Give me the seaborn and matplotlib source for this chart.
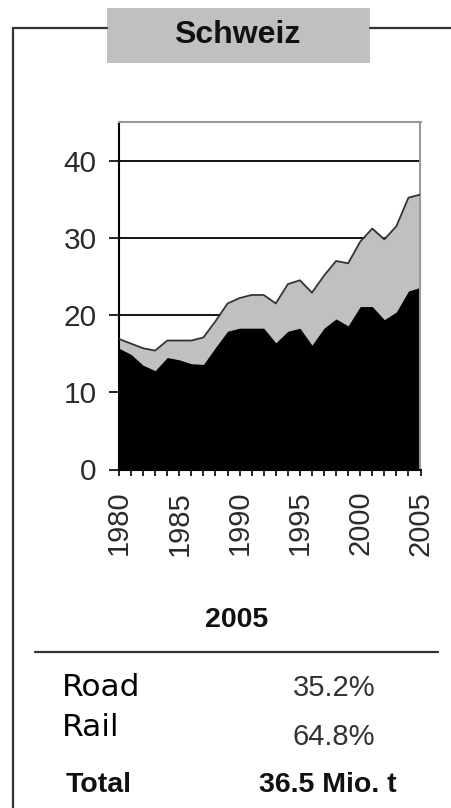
import matplotlib
matplotlib.use("Agg")
import matplotlib.pyplot as plt
from matplotlib.lines import Line2D
from matplotlib.patches import Rectangle
import numpy as np
import pandas as pd
import seaborn as sns

# Transalpine freight through Switzerland, million tonnes
years = list(range(1980, 2006))
rail = [15.7, 14.9, 13.5, 12.8, 14.5, 14.2, 13.7, 13.6, 15.8, 17.9,
        18.3, 18.3, 18.3, 16.4, 17.9, 18.3, 16.1, 18.3, 19.5, 18.6,
        21.1, 21.1, 19.4, 20.4, 23.1, 23.6]
total = [16.9, 16.3, 15.7, 15.4, 16.7, 16.7, 16.7, 17.1, 19.2, 21.5,
         22.2, 22.6, 22.6, 21.5, 24.0, 24.5, 22.9, 25.1, 27.0, 26.7,
         29.5, 31.2, 29.8, 31.5, 35.2, 35.6]
share_labels = ["Road", "Rail"]
share_values = ["35.2%", "64.8%"]
total_2005 = "36.5 Mio. t"
title = "Schweiz"
table_year = "2005"
yticks = [0, 10, 20, 30, 40]
xlabel_years = [1980, 1985, 1990, 1995, 2000, 2005]

df = pd.DataFrame({"year": years, "rail": rail, "total": total})

sns.set_theme(style="white")
plt.rcParams["font.family"] = ["Liberation Sans", "DejaVu Sans"]

W, H = 452, 808
fig = plt.figure(figsize=(W / 100, H / 100), dpi=100)
fig.patch.set_facecolor("white")

def fx(px):
    return px / W

def fy(py):
    return 1 - py / H

# Outer frame with the title tab
frame_col = "#333333"
fig.add_artist(Line2D([fx(13), fx(13)], [fy(28), 0], color=frame_col, lw=1.6))
fig.add_artist(Line2D([fx(13), fx(107)], [fy(28), fy(28)], color=frame_col, lw=1.6))
fig.add_artist(Line2D([fx(370), fx(452)], [fy(28), fy(28)], color=frame_col, lw=1.6))
fig.add_artist(Rectangle((fx(107), fy(63)), fx(370) - fx(107), fy(8) - fy(63),
                         facecolor="#c0c0c0", edgecolor="none"))
fig.text(fx(237), fy(35), title, ha="center", va="center",
         fontsize=23, fontweight="bold", color="#111111")

# Stacked area chart
ax = fig.add_axes([fx(119), fy(469.5), fx(420.5) - fx(119), fy(122) - fy(469.5)])
ax.set_facecolor("white")
for yv in yticks[1:]:
    ax.axhline(yv, color="black", lw=1.3, zorder=0)
ax.fill_between(df["year"], 0, df["total"], color="#c0c0c0", lw=0, zorder=1)
ax.fill_between(df["year"], 0, df["rail"], color="black", lw=0, zorder=2)
sns.lineplot(data=df, x="year", y="total", ax=ax, color="#333333", lw=1.3, zorder=3)

ax.set_xlim(1980, 2005)
ax.set_ylim(0, 45)
ax.set_xlabel("")
ax.set_ylabel("")
ax.set_yticks(yticks)
ax.set_yticklabels([str(v) for v in yticks])
ax.set_xticks(years)
ax.set_xticklabels([str(y) if y in xlabel_years else "" for y in years], rotation=90)
ax.tick_params(axis="y", direction="out", length=7.2, width=1.2, color="black",
               pad=9, labelsize=21.5, labelcolor="#2a2a2a", left=True)
ax.tick_params(axis="x", direction="out", length=4.3, width=1.2, color="black",
               pad=11, labelsize=21, labelcolor="#2a2a2a", bottom=True)
for side in ["left", "bottom"]:
    ax.spines[side].set_color("black")
    ax.spines[side].set_linewidth(1.5)
for side in ["top", "right"]:
    ax.spines[side].set_color("#999999")
    ax.spines[side].set_linewidth(1.5)
ax.spines["bottom"].set_zorder(5)

# Summary table for 2005
fig.text(fx(237), fy(620), table_year, ha="center", va="center",
         fontsize=20.5, fontweight="bold", color="#111111")
fig.add_artist(Line2D([fx(35), fx(438)], [fy(652), fy(652)], color="#333333", lw=1.6))
row_y = [688, 737]
label_y = [688, 727]
for lab, val, ly, vy in zip(share_labels, share_values, label_y, row_y):
    fig.text(fx(62), fy(ly), lab, ha="left", va="center", fontsize=22.5,
             family="DejaVu Sans", color="black")
    fig.text(fx(334), fy(vy), val, ha="center", va="center", fontsize=21,
             color="#333333")
fig.text(fx(66), fy(785), "Total", ha="left", va="center",
         fontsize=20.5, fontweight="bold", color="#111111")
fig.text(fx(328), fy(785), total_2005, ha="center", va="center",
         fontsize=20.5, fontweight="bold", color="#111111")

fig.savefig("out.png", dpi=100)
